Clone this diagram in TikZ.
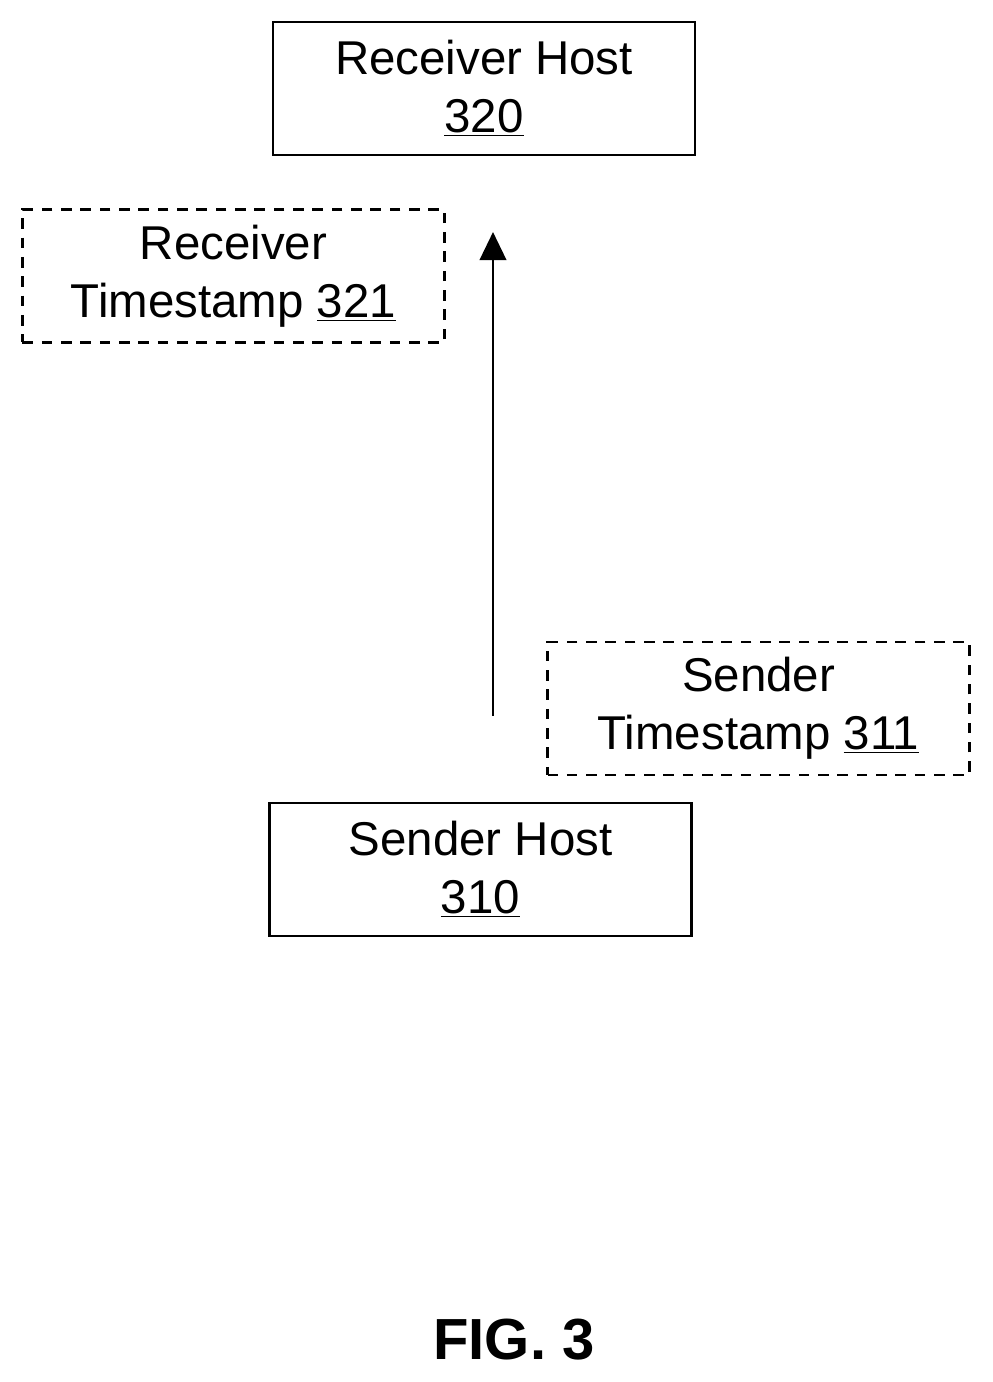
\documentclass[tikz,border=0pt]{standalone}
\usepackage{fontspec}
\setmainfont{Liberation Sans}
\usetikzlibrary{arrows.meta}
\begin{document}
\begin{tikzpicture}
    \tikzstyle{host}=[rectangle,draw,line width=1.5pt,minimum width=8.44cm,minimum height=2.66cm,align=center,font=\fontsize{27}{33}\selectfont]
    \tikzstyle{stamp}=[host,dashed,dash pattern=on 6pt off 5pt]
    \useasboundingbox (0,0) rectangle (19.86,27.64);
    \node[host] (recv) at (9.68,25.87) {Receiver Host\\\underline{320}};
    \node[stamp] (recvts) at (4.67,22.12) {Receiver\\Timestamp \underline{321}};
    \node[stamp] (sendts) at (15.17,13.47) {Sender\\Timestamp \underline{311}};
    \node[host] (send) at (9.61,10.25) {Sender Host\\\underline{310}};
    \coordinate (pktstart) at (9.86,13.32);
    \coordinate (pktend) at (9.86,23.0);
    \draw[-{Triangle[length=16pt,width=15pt]},line width=1.7pt] (pktstart) -- (pktend);
    \node[font=\bfseries\fontsize{33}{40}\selectfont] (fig) at (10.28,0.84) {FIG. 3};
\end{tikzpicture}
\end{document}
